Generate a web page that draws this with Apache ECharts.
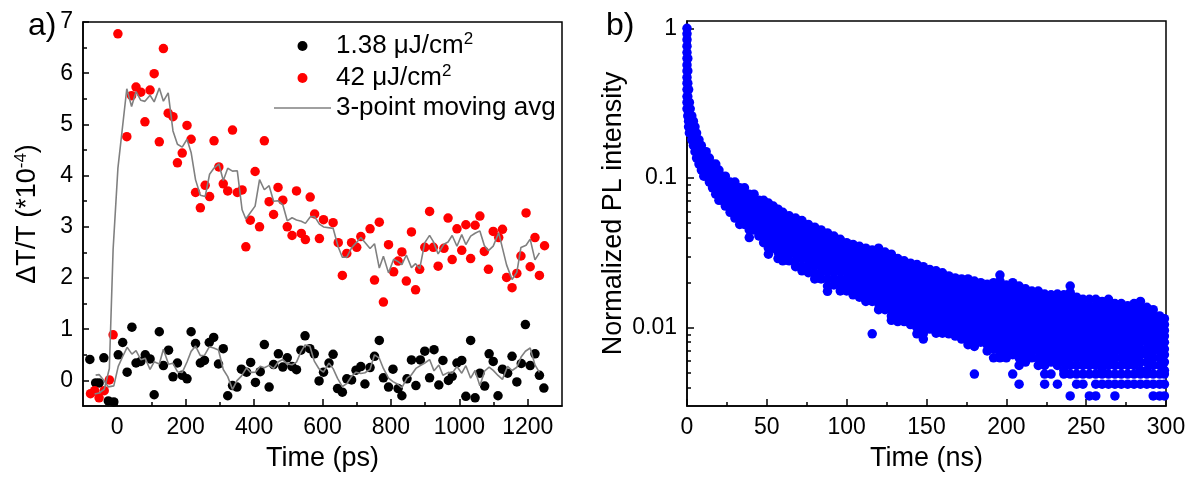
<!DOCTYPE html>
<html>
<head>
<meta charset="utf-8">
<script src="https://cdn.jsdelivr.net/npm/echarts@6/dist/echarts.min.js"></script>
<style>
html,body{margin:0;padding:0;background:#fff;}
#c{width:1195px;height:486px;}
</style>
</head>
<body>
<div id="c"></div>
<script>
// ---------- Panel a) : transient transmission ----------
const blackTime = [-80,-63,-53,-39,-26,-10,3,16,29,43,55,69,82,96,108,123,135,150,163,176,190,204,216,229,243,255,269,282,296,310,323,337,350,363,378,390,404,418,430,444,457,471,484,497,511,524,537,549,563,576,590,603,619,631,644,658,671,685,698,712,724,739,752,766,778,793,806,821,832,847,860,873,886,899,913,926,940,952,968,979,993,1007,1019,1033,1046,1060,1074,1087,1099,1113,1126,1141,1154,1168,1181,1193,1207,1221,1234,1247];
const blackSignal = [0.41,-0.05,-0.05,0.44,-0.40,-0.42,0.50,0.74,0.16,1.04,0.34,0.37,0.50,0.42,-0.28,0.95,0.29,0.59,0.07,0.34,0.10,0.03,0.95,0.72,0.34,0.39,0.74,0.84,0.32,0.62,-0.30,-0.10,-0.13,0.22,0.16,0.35,-0.04,0.17,0.70,-0.13,0.31,0.52,0.26,0.44,0.27,0.21,0.59,0.87,0.62,0.52,-0.01,0.16,0.34,0.51,-0.16,-0.23,0.03,0.01,0.20,0.27,-0.07,0.25,0.47,0.78,0.05,-0.13,0.22,-0.16,-0.30,0.03,0.40,-0.10,0.40,0.57,0.05,0.60,-0.09,0.39,0.00,0.08,0.34,0.39,-0.31,0.78,-0.34,0.14,-0.11,0.52,0.37,-0.30,0.22,0.14,0.47,-0.03,0.33,1.09,0.29,0.52,0.10,-0.15];

const redTime = [-78,-66,-53,-38,-23,-12,2,28,42,55,69,81,96,108,123,135,149,163,176,190,204,216,229,243,257,270,283,297,310,323,337,351,365,376,389,403,416,430,444,457,470,484,497,511,524,538,550,564,577,591,603,631,646,658,671,685,700,712,739,752,766,778,793,808,821,832,845,860,872,884,899,913,924,938,955,967,979,993,1007,1019,1033,1046,1060,1073,1085,1099,1115,1126,1138,1154,1168,1180,1195,1207,1221,1234,1249];
const redSignal = [-0.26,-0.20,-0.34,-0.20,0.01,0.89,6.77,4.76,5.56,5.73,5.63,5.05,5.67,5.99,4.66,6.48,5.22,5.15,4.25,4.44,4.98,4.71,3.67,3.37,3.81,3.59,4.68,4.17,3.84,3.70,4.89,3.67,3.72,2.61,3.13,4.08,3.00,4.68,3.49,3.24,3.77,3.52,3.00,2.83,3.70,2.87,2.75,3.58,3.25,2.77,3.14,3.08,2.69,2.05,2.48,2.69,2.60,2.81,2.96,1.96,3.09,1.53,2.65,2.12,2.33,2.51,1.94,2.90,1.77,2.17,2.60,3.30,2.60,2.23,2.58,3.17,2.36,2.96,2.54,3.04,2.38,3.03,3.21,2.52,2.17,2.91,2.79,2.95,2.01,1.81,2.09,2.43,3.27,2.22,2.79,2.05,2.63];

const legendNames = ['1.38 μJ/cm²', '42 μJ/cm²', '3-point moving avg'];
const timePsLabels = [0,200,400,600,800,1000,1200];
const timePsMinor = [100,300,500,700,900,1100];
const signalLabels = [0,1,2,3,4,5,6,7];
const signalMinor = [0.5,1.5,2.5,3.5,4.5,5.5,6.5];

// ---------- Panel b) : PL decay (time ns, normalized intensity x1e-4 per time column) ----------
const plColumns = [
 [0, [10000,9200,8400,7600,6900,6300,5700,5200,4700,4300,3900,3500,3200,2900]],
 [0.5, [6300,5200,4300,3500,2900,2600]],
 [1, [3900,3200,2900,2600,2400,2200]],
 [1.5, [3200,2600,2400,2200,2000]],
 [2, [2900,2600,2400,2200,2000]],
 [3, [2600,2400,2200,2000,1800]],
 [4, [2400,2200,2000,1800,1650]],
 [5, [2200,2000,1800,1650,1500]],
 [6, [2000,1800,1650,1500,1360]],
 [7.5, [1800,1650,1500,1360,1240]],
 [9, [1650,1500,1360,1240,1130]],
 [10.5, [1500,1360,1240,1130,1030]],
 [12, [1500,1360,1240,1130,1030]],
 [14, [1360,1240,1130,1030,940]],
 [16, [1240,1130,1030,940,860]],
 [18, [1240,1130,1030,940,860,780]],
 [20, [1130,1030,940,860,780,710]],
 [22, [1030,940,860,780,710]],
 [24, [1030,940,860,780,710,650]],
 [27, [940,860,780,710,650,590]],
 [30, [940,860,780,710,650,590,540]],
 [33, [860,780,710,650,590,540,490]],
 [36, [860,780,710,650,590,540,490]],
 [39, [780,710,650,590,540,490,450,400]],
 [42, [780,710,650,590,540,490,450]],
 [45, [710,650,590,540,490,450,410]],
 [48, [710,650,590,540,490,450,410,370]],
 [51, [680,620,560,510,460,420,380,340,310]],
 [54, [650,590,540,490,450,410,370,340]],
 [57, [620,570,520,470,430,390,350,320,290]],
 [60, [590,540,490,450,410,370,340,310,280]],
 [64, [560,510,460,420,380,340,310,280]],
 [68, [540,490,450,410,370,340,310,280,256]],
 [72, [520,470,430,390,350,320,290,256,240]],
 [76, [490,450,410,370,340,310,280,256,233]],
 [80, [470,430,390,350,320,290,260,233,212]],
 [84, [450,410,370,340,310,280,256,233,212]],
 [88, [430,390,350,320,290,260,240,212,190,175]],
 [92, [410,370,340,310,280,256,233,212,193]],
 [96, [390,350,320,290,260,240,212,193,176]],
 [100, [370,340,310,280,256,233,212,193,176]],
 [104, [360,330,300,270,245,222,200,182,166]],
 [108, [350,320,290,260,240,215,195,176,160]],
 [112, [340,310,280,256,233,212,193,176,160,150]],
 [116, [330,300,270,245,222,200,182,166,150,91]],
 [120, [340,310,280,256,233,212,193,176,160,145,132]],
 [124, [320,290,260,240,215,195,176,160,145,132]],
 [128, [310,280,256,233,212,193,176,160,145,132,120,112]],
 [132, [290,260,240,215,195,176,160,145,132,120,110]],
 [136, [280,256,233,212,193,176,160,145,132,120,110]],
 [140, [270,245,222,200,182,166,150,137,125,114,105]],
 [144, [265,240,215,195,176,160,145,132,120,110,100,91]],
 [148, [256,233,212,193,176,160,145,132,120,110,100,91,84]],
 [152, [245,222,200,182,166,150,137,125,114,105,98]],
 [156, [240,215,195,176,160,145,132,120,110,100,92]],
 [160, [233,212,193,176,160,145,132,120,110,101,92]],
 [164, [222,200,182,166,150,137,125,114,105,98,91]],
 [168, [215,195,176,160,145,132,120,110,101,92,88]],
 [172, [212,193,176,160,145,132,120,110,101,92,84]],
 [176, [212,193,176,160,145,132,120,110,101,92,84,77]],
 [180, [205,186,170,155,140,128,117,107,98,90,82,75,49]],
 [184, [200,182,166,150,137,125,114,105,96,88,80]],
 [188, [195,176,160,145,132,120,110,101,92,84,77,70]],
 [192, [200,182,166,150,137,125,114,105,96,88,80,72,63]],
 [196, [225,205,186,170,155,140,128,117,107,98,90,82,75,68,63]],
 [200, [193,176,160,145,132,120,110,101,92,84,77,70,63]],
 [204, [200,182,166,150,137,125,114,105,96,88,80,72,66,49]],
 [208, [190,172,157,143,130,118,108,99,90,82,75,68,63,56,42]],
 [212, [182,166,150,137,125,114,105,96,88,80,72,66,59]],
 [216, [176,160,145,132,120,110,101,92,84,77,70,63]],
 [220, [176,160,145,132,120,110,101,92,84,77,70,63,56]],
 [224, [168,153,140,128,117,107,98,90,82,75,68,62,56,49,42]],
 [228, [166,150,137,125,114,105,96,88,80,72,66,59,49]],
 [232, [168,153,140,128,117,107,98,90,82,75,68,62,56,42]],
 [236, [166,150,137,125,114,105,96,88,80,72,66,59,52,49]],
 [240, [190,172,157,143,130,118,108,99,90,82,75,68,62,56,49,35]],
 [244, [160,145,132,120,110,101,92,84,77,70,63,56,49,42]],
 [248, [155,140,128,117,107,98,90,82,75,68,62,56,49,42]],
 [252, [155,140,128,117,107,98,90,82,75,68,62,56,49,35]],
 [256, [155,140,128,117,107,98,90,82,75,68,62,56,49,42,35]],
 [260, [150,137,125,114,105,96,88,80,72,66,59,52,49,42]],
 [264, [155,140,128,117,107,98,90,82,75,68,62,56,49,42]],
 [268, [145,132,120,110,101,92,84,77,70,63,56,49,42,35]],
 [272, [145,132,120,110,101,92,84,77,70,63,56,49,42]],
 [276, [140,128,117,107,98,90,82,75,68,62,56,49,42]],
 [280, [145,132,120,110,101,92,84,77,70,63,56,49,42]],
 [284, [150,137,125,114,105,96,88,80,72,66,59,52,49,42]],
 [288, [137,125,114,105,96,88,80,72,66,59,52,49,42]],
 [292, [132,120,110,101,92,84,77,70,63,56,49,42,35]],
 [296, [120,110,101,92,84,77,70,63,56,49,42,35]],
 [299, [115,105,96,88,80,72,66,59,52,49,42,35]]
];
const timeNsLabels = [0,50,100,150,200,250,300];
const timeNsMinor = [25,75,125,175,225,275];
const plLabels = [0.01,0.1,1];
const plMinor = [0.004,0.005,0.006,0.007,0.008,0.009,0.02,0.03,0.04,0.05,0.06,0.07,0.08,0.09,0.2,0.3,0.4,0.5,0.6,0.7,0.8,0.9];

// ---------- build ----------
const FONT = '"Liberation Sans", Arial, Helvetica, sans-serif';
const blackPts = blackTime.map((t, i) => [t, blackSignal[i]]);
const redPts = redTime.map((t, i) => [t, redSignal[i]]);
function movingAverage(times, vals) {
  const out = [];
  for (let i = 1; i < vals.length - 1; i++) {
    out.push([times[i], (vals[i - 1] + vals[i] + vals[i + 1]) / 3]);
  }
  return out;
}
const plPts = [];
plColumns.forEach(([t, vals]) => vals.forEach(v => plPts.push([t, v / 10000])));

const axisLineStyle = { show: true, onZero: false, lineStyle: { color: '#000', width: 1.5 } };
const tickLine = { color: '#000', width: 1.5 };
const labelStyle = { color: '#000', fontSize: 23, fontFamily: FONT };
const nameStyle = { color: '#000', fontSize: 27, fontFamily: FONT };
const plainNumber = v => String(+(+v).toPrecision(4));

function minorAxis(gridIndex, type, min, max, position, values) {
  return {
    gridIndex, type, min, max, position, offset: 0,
    axisLine: { show: false, onZero: false },
    axisTick: { show: true, inside: true, length: 4, customValues: values, lineStyle: tickLine },
    axisLabel: { show: false },
    splitLine: { show: false }
  };
}

const chart = echarts.init(document.getElementById('c'), null, { renderer: 'canvas' });
const option = {
  animation: false,
  backgroundColor: '#ffffff',
  textStyle: { fontFamily: FONT },
  grid: [
    { left: 83, top: 22, width: 479, height: 384, show: true, borderColor: '#000', borderWidth: 1.5, backgroundColor: 'transparent', containLabel: false, outerBoundsMode: 'none' },
    { left: 687, top: 21, width: 479, height: 385, show: true, borderColor: '#000', borderWidth: 1.5, backgroundColor: 'transparent', containLabel: false, outerBoundsMode: 'none' }
  ],
  legend: {
    show: true,
    left: 269, top: 26,
    orient: 'vertical',
    itemWidth: 57, itemHeight: 10, itemGap: 4,
    data: [
      { name: legendNames[0], icon: 'circle' },
      { name: legendNames[1], icon: 'circle' },
      { name: legendNames[2], icon: 'path://M0,0L57,0L57,1.6L0,1.6Z' }
    ],
    formatter: name => name.indexOf('²') >= 0 ? '{t|' + name.replace('²', '') + '}{s|2}' : '{t|' + name + '}',
    textStyle: {
      color: '#000', fontSize: 26, fontFamily: FONT,
      rich: {
        t: { color: '#000', fontSize: 26, fontFamily: FONT, lineHeight: 30 },
        s: { color: '#000', fontSize: 17, fontFamily: FONT, lineHeight: 17, verticalAlign: 'top' }
      }
    },
    selectedMode: false
  },
  xAxis: [
    {
      gridIndex: 0, type: 'value', min: -100, max: 1300, position: 'bottom',
      name: 'Time (ps)', nameLocation: 'middle', nameGap: 39, nameTextStyle: nameStyle,
      axisLine: axisLineStyle,
      axisTick: { show: true, inside: true, length: 7, customValues: timePsLabels, lineStyle: tickLine },
      axisLabel: Object.assign({ customValues: timePsLabels, margin: 10, formatter: plainNumber }, labelStyle),
      splitLine: { show: false }
    },
    minorAxis(0, 'value', -100, 1300, 'bottom', timePsMinor),
    {
      gridIndex: 1, type: 'value', min: 0, max: 300, position: 'bottom',
      name: 'Time (ns)', nameLocation: 'middle', nameGap: 39, nameTextStyle: nameStyle,
      axisLine: axisLineStyle,
      axisTick: { show: true, inside: true, length: 7, customValues: timeNsLabels, lineStyle: tickLine },
      axisLabel: Object.assign({ customValues: timeNsLabels, margin: 10, formatter: plainNumber }, labelStyle),
      splitLine: { show: false }
    },
    minorAxis(1, 'value', 0, 300, 'bottom', timeNsMinor)
  ],
  yAxis: [
    {
      gridIndex: 0, type: 'value', min: -0.5, max: 7, position: 'left',
      name: '{n|ΔT/T (*10}{s|-4}{n|)}', nameLocation: 'middle', nameGap: 40,
      nameTextStyle: {
        color: '#000', fontSize: 27, fontFamily: FONT,
        rich: {
          n: { color: '#000', fontSize: 27, fontFamily: FONT, lineHeight: 30 },
          s: { color: '#000', fontSize: 17, fontFamily: FONT, lineHeight: 17, verticalAlign: 'top' }
        }
      },
      axisLine: axisLineStyle,
      axisTick: { show: true, inside: true, length: 6, customValues: signalLabels, lineStyle: tickLine },
      axisLabel: Object.assign({ customValues: signalLabels, margin: 10, formatter: plainNumber }, labelStyle),
      splitLine: { show: false }
    },
    minorAxis(0, 'value', -0.5, 7, 'left', signalMinor),
    {
      gridIndex: 1, type: 'log', logBase: 10, min: 0.003, max: 1.12, position: 'left',
      name: 'Normalized PL intensity', nameLocation: 'middle', nameGap: 60, nameTextStyle: nameStyle,
      axisLine: axisLineStyle,
      axisTick: { show: true, inside: true, length: 7, customValues: plLabels, lineStyle: tickLine },
      axisLabel: Object.assign({ customValues: plLabels, margin: 10, formatter: plainNumber }, labelStyle),
      splitLine: { show: false }
    },
    minorAxis(1, 'log', 0.003, 1.12, 'left', plMinor)
  ],
  series: [
    {
      type: 'scatter', name: legendNames[0], xAxisIndex: 0, yAxisIndex: 0,
      data: blackPts, symbol: 'circle', symbolSize: 9.5,
      itemStyle: { color: '#000000', opacity: 1 }, emphasis: { disabled: true }
    },
    {
      type: 'scatter', name: legendNames[1], xAxisIndex: 0, yAxisIndex: 0,
      data: redPts, symbol: 'circle', symbolSize: 9.5,
      itemStyle: { color: '#ff0000', opacity: 1 }, emphasis: { disabled: true }
    },
    {
      type: 'line', name: legendNames[2], xAxisIndex: 0, yAxisIndex: 0,
      data: movingAverage(redTime, redSignal), symbol: 'none', showSymbol: false,
      lineStyle: { color: '#808080', width: 1.6 }, itemStyle: { color: '#808080' }, emphasis: { disabled: true }
    },
    {
      type: 'line', name: legendNames[2], xAxisIndex: 0, yAxisIndex: 0,
      data: movingAverage(blackTime, blackSignal), symbol: 'none', showSymbol: false,
      lineStyle: { color: '#808080', width: 1.6 }, itemStyle: { color: '#808080' }, emphasis: { disabled: true }
    },
    {
      type: 'scatter', name: 'PL', xAxisIndex: 2, yAxisIndex: 2,
      data: plPts, symbol: 'circle', symbolSize: 9.5,
      itemStyle: { color: '#0000ff', opacity: 1 }, emphasis: { disabled: true }
    }
  ],
  graphic: [
    { type: 'text', left: 28, top: 10, style: { text: 'a)', fill: '#000', font: '32px ' + FONT } },
    { type: 'text', left: 606, top: 10, style: { text: 'b)', fill: '#000', font: '32px ' + FONT } }
  ]
};
chart.setOption(option);
</script>
</body>
</html>
